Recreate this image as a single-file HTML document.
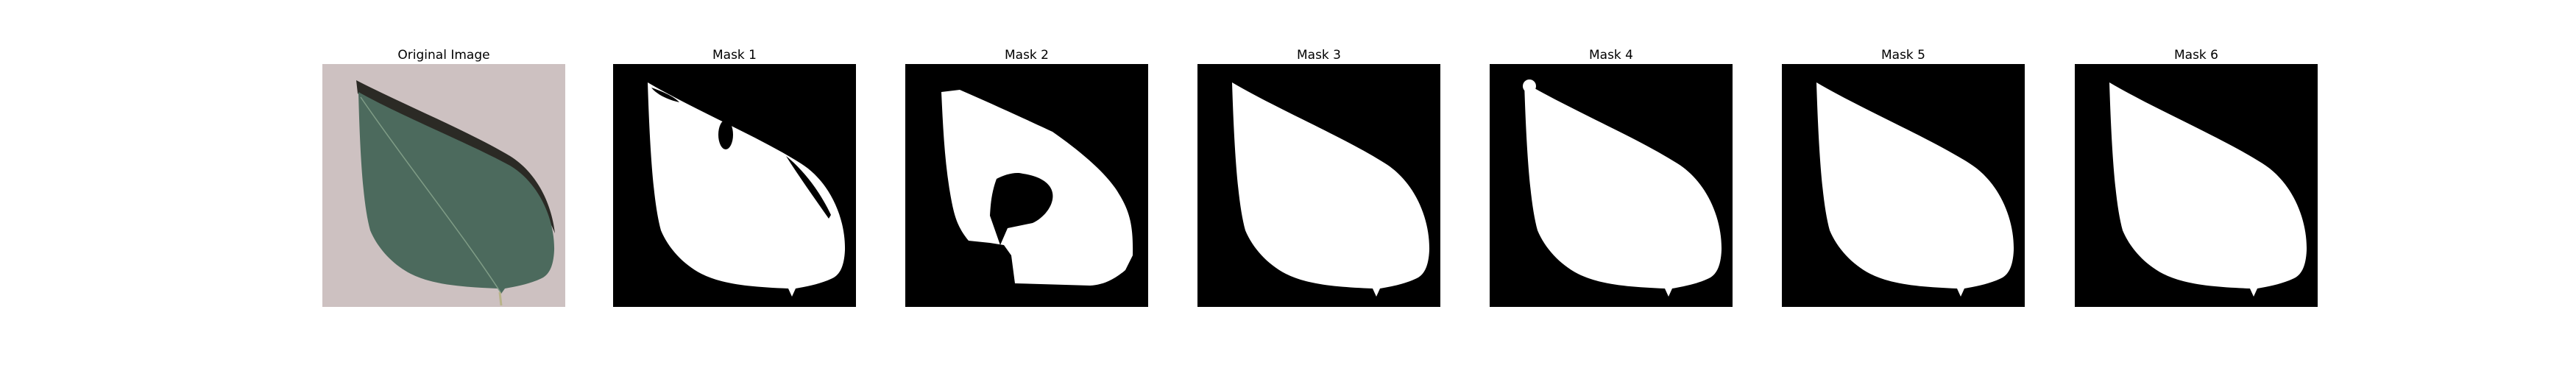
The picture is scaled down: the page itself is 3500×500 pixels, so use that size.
<!DOCTYPE html>
<html><head><meta charset="utf-8"><style>
html,body{margin:0;padding:0;background:#fff;}
svg{display:block;}
text{font-family:"DejaVu Sans","Liberation Sans",sans-serif;font-size:17px;fill:#000;}
</style></head><body>
<svg width="3500" height="500" viewBox="0 0 3500 500" xmlns="http://www.w3.org/2000/svg">
<defs>
<path id="leaf" d="M47,25 C110,62 200,100 255,135 C295,160 316,210 315,253 C314,275 308,285 300,290 C285,298 265,302 248,305 L243,316 L238,305 C190,303 150,300 120,285 C95,272 75,250 65,226 C55,190 50,120 47,25 Z"/>
</defs>

<!-- Original image -->
<g transform="translate(438,87)">
  <rect width="330" height="330" fill="#cdc1c1"/>
  <path d="M46,22 C110,55 200,92 255,125 C295,150 312,195 316,230 C300,190 270,160 220,135 L48,40 Z" fill="#2b2a25"/>
  <path d="M49,38 C110,72 200,108 255,138 C295,162 316,212 315,253 C314,275 308,285 300,290 C285,298 265,302 248,305 L243,312 L238,305 C190,303 150,300 120,285 C95,272 75,250 65,226 C55,190 51,120 49,38 Z" fill="#4c6a5d"/>
  <path d="M52,45 C110,130 190,230 242,310" stroke="#7f9c86" stroke-width="1.5" fill="none"/>
  <path d="M241,310 L243,328" stroke="#b9b48a" stroke-width="3"/>
</g>
<text x="603" y="80" text-anchor="middle">Original Image</text>

<!-- Mask 1 -->
<g transform="translate(833,87)">
  <rect width="330" height="330" fill="#000"/>
  <use href="#leaf" fill="#fff"/>
  <ellipse cx="153" cy="96" rx="10" ry="20" fill="#000"/>
  <path d="M52,32 C70,38 85,46 90,52 C72,48 58,40 52,32 Z" fill="#000"/>
  <path d="M235,125 C260,145 282,175 296,205 L293,210 C272,180 252,152 235,125 Z" fill="#000"/>
</g>
<text x="998" y="80" text-anchor="middle">Mask 1</text>

<!-- Mask 2 -->
<g transform="translate(1230,87)">
  <rect width="330" height="330" fill="#000"/>
  <path d="M49,38 L74,35 C120,55 170,78 200,92 C240,120 275,150 290,176 C305,200 310,220 309,260 L299,280 C285,292 270,300 251,301 L149,298 L144,260 L134,246 L115,243 L86,240 C70,220 66,206 60,170 C53,126 51,80 49,38 Z" fill="#fff"/>
  <path d="M124,156 C135,150 150,146 160,149 C180,152 197,160 200,175 C203,190 190,208 173,216 L139,223 L129,246 L115,206 C116,190 117,175 124,156 Z" fill="#000"/>
</g>
<text x="1395" y="80" text-anchor="middle">Mask 2</text>

<!-- Mask 3 -->
<g transform="translate(1627,87)">
  <rect width="330" height="330" fill="#000"/>
  <use href="#leaf" fill="#fff"/>
</g>
<text x="1792" y="80" text-anchor="middle">Mask 3</text>

<!-- Mask 4 -->
<g transform="translate(2024,87)">
  <rect width="330" height="330" fill="#000"/>
  <use href="#leaf" fill="#fff"/>
  <circle cx="54" cy="30" r="9" fill="#fff"/>
</g>
<text x="2189" y="80" text-anchor="middle">Mask 4</text>

<!-- Mask 5 -->
<g transform="translate(2421,87)">
  <rect width="330" height="330" fill="#000"/>
  <use href="#leaf" fill="#fff"/>
</g>
<text x="2586" y="80" text-anchor="middle">Mask 5</text>

<!-- Mask 6 -->
<g transform="translate(2819,87)">
  <rect width="330" height="330" fill="#000"/>
  <use href="#leaf" fill="#fff"/>
</g>
<text x="2984" y="80" text-anchor="middle">Mask 6</text>
</svg>
</body></html>
